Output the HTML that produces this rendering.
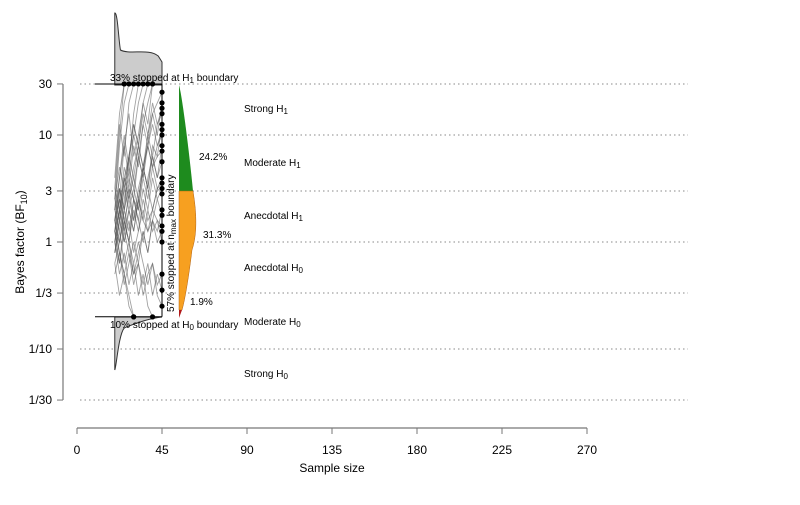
<!DOCTYPE html>
<html><head><meta charset="utf-8"><style>
body{margin:0;background:#fff}
svg{font-family:"Liberation Sans",sans-serif}
</style></head><body>
<svg id="c" width="800" height="500" viewBox="0 0 800 500">
<g id="grid"></g><g id="paths"></g><g id="fg"></g>
</svg>
<script>
const yTickLabels=["30","10","3","1","1/3","1/10","1/30"];
const yTickValues=[30,10,3,1,1/3,1/10,1/30];
const xTicks=[0,45,90,135,180,225,270];
const upperBF=30, lowerBF=0.2, nStart=20, nMax=45;
const steps=[20,22.5,25,27.5,30,32.5,35,37.5,40,42.5,45];
// log10 BF trajectories
const traj=[
[0.3,0.9,1.3,1.48],[0.5,1.1,0.8,1.3,1.48],[0.2,0.6,1.0,0.7,1.2,1.48],[0.4,1.0,1.48],
[0.1,0.5,0.3,0.8,1.1,0.9,1.3,1.48],[0.6,1.2,1.48],[0.2,0.4,0.9,1.2,0.8,1.0,1.3,1.1,1.48],
[0.0,0.3,0.1,0.5,0.4,0.8,0.6,1.0,1.2,1.0,1.3],[0.1,-0.2,0.2,0.0,0.4,0.3,0.7,0.5,0.9,0.8,1.1],
[-0.1,0.2,0.5,0.3,0.1,0.4,0.2,0.6,0.8,0.6,0.9],[0.3,0.1,0.4,0.7,0.5,0.8,0.6,0.9,0.7,0.9,1.0],
[0.0,-0.3,-0.1,-0.4,-0.2,-0.5,-0.3,-0.6,-0.7],[-0.2,-0.5,-0.3,-0.6,-0.7],
[0.2,0.0,0.3,0.1,0.4,0.2,0.5,0.3,0.6,0.4,0.5],[0.1,0.4,0.2,0.0,0.3,0.1,0.4,0.2,0.3,0.5,0.45],
[-0.1,0.1,-0.2,0.0,-0.3,-0.1,0.1,-0.1,0.2,0.0,0.1],[0.2,0.5,0.3,0.6,0.4,0.2,0.0,0.3,0.1,0.2,0.0],
[0.0,-0.2,0.1,-0.1,-0.3,-0.2,-0.4,-0.2,-0.5,-0.3,-0.45],[0.4,0.2,0.6,0.4,0.7,0.9,0.7,1.0,0.8,1.1,1.2],
[0.1,0.3,0.6,0.4,0.2,0.5,0.7,0.5,0.8,0.6,0.75],[-0.3,-0.1,-0.4,-0.2,0.0,-0.2,0.1,-0.1,0.2,0.1,0.3],
[0.3,0.5,0.2,0.4,0.6,0.9,0.7,0.5,0.3,0.5,0.6],[0.0,0.2,0.5,0.8,0.6,0.4,0.7,0.9,1.1,0.9,1.05],
[0.2,-0.1,-0.3,-0.1,-0.4,-0.2,-0.5,-0.3,-0.2,-0.4,-0.3],[0.1,0.3,0.0,0.2,-0.1,0.1,0.3,0.1,0.2,0.4,0.25],
[0.5,0.3,0.7,0.5,0.9,0.7,1.1,0.9,1.2,1.3,1.4],[-0.2,0.0,0.2,0.0,-0.2,0.0,-0.2,-0.4,-0.2,-0.5,-0.6],
[0.1,-0.1,-0.3,-0.5,-0.7],[0.3,0.6,0.9,0.6,1.0,1.3,1.48],[0.0,0.3,0.6,0.8,1.0,0.8,1.1,1.3,1.48],
[0.2,0.4,0.1,0.3,0.5,0.3,0.6,0.4,0.7,0.5,0.55],[-0.1,0.2,0.0,0.3,0.1,0.4,0.2,0.1,0.3,0.2,0.15],
[0.4,0.7,0.5,0.8,1.1,0.9,1.2,1.0,1.3,1.1,1.25],[0.1,0.0,0.3,0.5,0.2,0.4,0.7,0.9,0.7,0.8,0.85]
];
const pctH1=24.2, pctAnec=31.3, pctH0=1.9;
const X=n=>77+n*(510/270);
const Y=l=>242-l*107;
const Yb=b=>Y(Math.log10(b));
const G=document.getElementById('grid'),P=document.getElementById('paths'),F=document.getElementById('fg');
const NS='http://www.w3.org/2000/svg';
function mk(t,a,p,name){const e=document.createElementNS(NS,t);for(const k in a)e.setAttribute(k,a[k]);


(p||F).appendChild(e);return e;}
function txt(x,y,s,a,name,p){const e=mk('text',Object.assign({x:x,y:y,'font-size':11,fill:'#000'},a||{}),p,name);e.innerHTML=s;return e;}
yTickValues.forEach((v,i)=>{const y=Yb(v);
mk('line',{x1:80,x2:688,y1:y,y2:y,stroke:'#888','stroke-dasharray':'1.5,3'},G,'grid-line');
mk('line',{x1:57,x2:63,y1:y,y2:y,stroke:'#777'},F,'y-tick');
txt(52,y+4,yTickLabels[i],{'text-anchor':'end','font-size':12},'y-tick-label');});
mk('line',{x1:63,x2:63,y1:Yb(30),y2:Yb(1/30),stroke:'#777','stroke-width':1.2},F,'y-axis');
txt(24,242,'Bayes factor (BF<tspan font-size="9" dy="3">10</tspan><tspan dy="-3">)</tspan>',{transform:'rotate(-90 24 242)','text-anchor':'middle','font-size':12},'y-axis-title');
mk('line',{x1:X(0),x2:X(270),y1:428,y2:428,stroke:'#777','stroke-width':1.2},F,'x-axis');
xTicks.forEach(v=>{mk('line',{x1:X(v),x2:X(v),y1:428,y2:434,stroke:'#777'},F,'x-tick');
txt(X(v),454,v,{'text-anchor':'middle','font-size':12},'x-tick-label');});
txt(X(135),472,'Sample size',{'text-anchor':'middle','font-size':12},'x-axis-title');
mk('path',{d:`M${X(20)},85 L${X(20)},13 C${X(21.5)},12 ${X(22)},40 ${X(23)},50 C${X(28)},55 ${X(38)},48 ${X(43)},56 L${X(45)},62 L${X(45)},85 Z`,fill:'#ccc',stroke:'#333'},F,'h1-stop-density');
mk('path',{d:`M${X(20)},317 L${X(20)},370 C${X(21)},365 ${X(22)},335 ${X(25)},328 C${X(32)},322 ${X(40)},318 ${X(45)},317 Z`,fill:'#ccc',stroke:'#333'},F,'h0-stop-density');
traj.forEach(t=>{let d=t.map((l,i)=>(i?'L':'M')+X(steps[i])+','+Y(Math.max(-0.7,Math.min(1.477,l)))).join(' ');
mk('path',{d:d,fill:'none',stroke:'#555','stroke-opacity':0.55,'stroke-width':0.9},P,'bf-trajectory');});
mk('line',{x1:95,x2:X(nMax),y1:Yb(upperBF),y2:Yb(upperBF),stroke:'#000'},F,'h1-boundary');
mk('line',{x1:95,x2:X(nMax),y1:Yb(lowerBF),y2:Yb(lowerBF),stroke:'#000'},F,'h0-boundary');
mk('line',{x1:X(nMax),x2:X(nMax),y1:Yb(upperBF),y2:Yb(lowerBF),stroke:'#000'},F,'nmax-boundary');
traj.forEach(t=>{const l=t[t.length-1];const n=steps[t.length-1];
const cl=Math.max(-0.7,Math.min(1.477,l));
mk('circle',{cx:X(n),cy:Y(cl),r:2.6,fill:'#000'},F,'stop-point');});
const vx=X(54);
mk('path',{d:`M${vx},85 C${vx+3},95 ${vx+10},150 ${vx+14},191 L${vx},191 Z`,fill:'#1e8b1e'},F,'strong-moderate-h1-area');
mk('path',{d:`M${vx},191 L${vx+14},191 C${vx+18},215 ${vx+18},235 ${vx+13},250 C${vx+10},275 ${vx+6},300 ${vx+3},310 L${vx},310 Z`,fill:'#f7a020',stroke:'#b06010','stroke-width':0.5},F,'anecdotal-area');
mk('path',{d:`M${vx},310 L${vx+3},310 L${vx},318 Z`,fill:'#b01818'},F,'moderate-h0-area');
txt(199,160,pctH1+'%',{'font-size':10},'pct-h1');
txt(203,238,pctAnec+'%',{'font-size':10},'pct-anecdotal');
txt(190,305,pctH0+'%',{'font-size':10},'pct-h0');
txt(110,81,'33% stopped at H<tspan font-size="8" dy="2">1</tspan><tspan dy="-2"> boundary</tspan>',{'font-size':10},'h1-stop-label');
txt(110,328,'10% stopped at H<tspan font-size="8" dy="2">0</tspan><tspan dy="-2"> boundary</tspan>',{'font-size':10},'h0-stop-label');
txt(174,312,'57% stopped at n<tspan font-size="8" dy="2">max</tspan><tspan dy="-2"> boundary</tspan>',{'font-size':10,transform:'rotate(-90 174 312)'},'nmax-stop-label');
const ev=[['Strong H','1',112],['Moderate H','1',166],['Anecdotal H','1',219],['Anecdotal H','0',271],['Moderate H','0',325],['Strong H','0',377]];
ev.forEach(e=>txt(244,e[2],e[0]+'<tspan font-size="8" dy="2">'+e[1]+'</tspan>',{'font-size':10},'evidence-label'));
</script>
</body></html>
